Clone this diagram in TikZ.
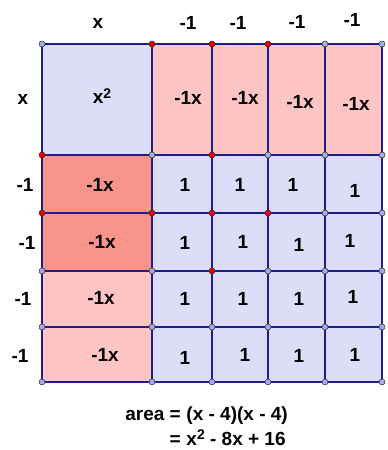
\documentclass[tikz,border=0pt]{standalone}
\usepackage{fontspec}
\setmainfont{Liberation Sans}
\definecolor{lav}{HTML}{DDDDFA}
\definecolor{pinkc}{HTML}{FFC4C4}
\definecolor{salm}{HTML}{F8948A}
\definecolor{edge}{HTML}{1E1E8C}
\definecolor{bdot}{HTML}{A4ACE6}
\definecolor{rdot}{HTML}{E80000}
\newcommand{\sqx}{x\raisebox{0.3em}{\fontsize{14}{14}\selectfont 2}}
\begin{document}
\begin{tikzpicture}[x=1pt,y=-1pt,
  lbl/.style={font=\fontsize{19}{19}\selectfont\bfseries, inner sep=0pt},
  cell/.style={draw=edge, line width=1.4pt},
  bpt/.style={circle, draw=black!80, fill=bdot, line width=0.5pt, inner sep=0pt, minimum size=6pt},
  rpt/.style={circle, draw=black!80, fill=rdot, line width=0.5pt, inner sep=0pt, minimum size=6pt}]
\useasboundingbox (0,0) rectangle (388,450);
% grid vertices
\def\xs{{42,152,212,268,325,382}}
\def\ys{{44,155,213,271,327,382}}
\foreach \i in {0,...,5}{
  \foreach \j in {0,...,5}{
    \pgfmathsetmacro{\px}{\xs[\i]}
    \pgfmathsetmacro{\py}{\ys[\j]}
    \coordinate (p\i\j) at (\px,\py);
  }
}
% cells
\fill[lav] (p00) rectangle (p11);
\foreach \i in {1,...,4}{
  \pgfmathtruncatemacro{\ii}{\i+1}
  \fill[pinkc] (p\i0) rectangle (p\ii1);
}
\fill[salm] (p01) rectangle (p13);
\fill[pinkc] (p03) rectangle (p15);
\fill[lav] (p11) rectangle (p55);
% grid lines
\foreach \i in {0,...,5}{ \draw[cell] (p\i0) -- (p\i5); }
\foreach \j in {0,...,5}{ \draw[cell] (p0\j) -- (p5\j); }
% points
\foreach \i/\j in {00/b,10/r,20/r,30/r,40/b,50/b,
                   01/r,11/b,21/r,31/b,41/b,51/b,
                   02/r,12/r,22/r,32/r,42/b,52/b,
                   03/b,13/b,23/r,33/b,43/b,53/b,
                   04/b,14/b,24/b,34/b,44/b,54/b,
                   05/b,15/b,25/b,35/b,45/b,55/b}{
  \node[\j pt] (d\i) at (p\i) {};
}
% side labels
\node[lbl] (tx) at (98,23) {x};
\node[lbl] (t1) at (188,23) {-1};
\node[lbl] (t2) at (238,23) {-1};
\node[lbl] (t3) at (297,22) {-1};
\node[lbl] (t4) at (352,20) {-1};
\node[lbl] (lx) at (23,99) {x};
\node[lbl] (l1) at (25,185) {-1};
\node[lbl] (l2) at (27,243) {-1};
\node[lbl] (l3) at (23,299) {-1};
\node[lbl] (l4) at (20,356) {-1};
% cell labels
\node[lbl] (cxx) at (102,96) {\sqx};
\node[lbl] (c10) at (188,98) {-1x};
\node[lbl] (c20) at (245,98) {-1x};
\node[lbl] (c30) at (300,102) {-1x};
\node[lbl] (c40) at (356,104) {-1x};
\node[lbl] (c01) at (100,185) {-1x};
\node[lbl] (c02) at (102,242) {-1x};
\node[lbl] (c03) at (101,298) {-1x};
\node[lbl] (c04) at (105,355) {-1x};
\foreach \n/\x/\y in {11/185/185,21/240/185,31/293/185,41/355/191,
                      12/185/243,22/243/242,32/299/245,42/350/241,
                      13/185/299,23/243/299,33/299/299,43/353/297,
                      14/185/358,24/245/355,34/299/356,44/355/355}{
  \node[lbl] (u\n) at (\x,\y) {1};
}
% area text
\node[lbl, anchor=base east] (eq1) at (181,420) {area =};
\node[lbl, anchor=base west] (eq1r) at (eq1.base east) {\ (x - 4)(x - 4)};
\node[lbl, anchor=base east] (eq2) at (181,445) {=};
\node[lbl, anchor=base west] (eq2r) at (eq2.base east) {\ \sqx\ - 8x + 16};
\end{tikzpicture}
\end{document}
